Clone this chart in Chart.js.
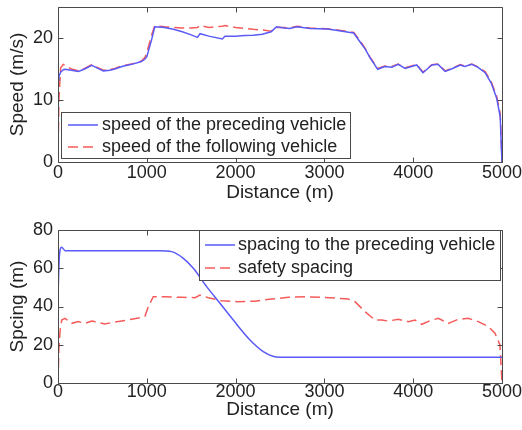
<!DOCTYPE html>
<html>
<head>
<meta charset="utf-8">
<script src="https://cdn.jsdelivr.net/npm/chart.js@4.4.1/dist/chart.umd.min.js"></script>
<style>
  html, body { margin: 0; padding: 0; background: #fff; }
  .panel { position: absolute; left: 0; width: 522px; height: 215px; }
  #speedPanel { top: 0; }
  #spacingPanel { top: 215px; }
</style>
</head>
<body>
<div class="panel" id="speedPanel"><canvas id="speedChart" width="522" height="215"></canvas></div>
<div class="panel" id="spacingPanel"><canvas id="spacingChart" width="522" height="215"></canvas></div>
<script>
// Speed profile (distance in m, speed in m/s)
const speedDist = [0, 10, 30, 60, 80, 150, 230, 300, 380, 450, 510, 585, 640, 720, 830, 940, 980, 1000,
  1050, 1090, 1200, 1300, 1400, 1500, 1570, 1600, 1700, 1850, 1880, 2000, 2100, 2200, 2300, 2400, 2460,
  2550, 2610, 2690, 2840, 3030, 3150, 3290, 3330, 3400, 3460, 3510, 3600, 3680, 3760, 3830, 3910, 3980,
  4040, 4110, 4210, 4280, 4360, 4430, 4530, 4580, 4660, 4730, 4810, 4880, 4940, 4980, 4995, 5000];
const precedingSpeed = [13.2, 13.8, 14.5, 14.9, 14.95, 14.8, 14.6, 15.0, 15.6, 15.1, 14.7, 14.8, 15.0, 15.4, 15.75, 16.2, 16.6, 17.0,
  19.5, 21.8, 21.7, 21.4, 21.0, 20.5, 20.1, 20.7, 20.3, 19.85, 20.3, 20.3, 20.4, 20.45, 20.6, 21.0, 21.8,
  21.6, 21.55, 21.8, 21.55, 21.45, 21.2, 20.9, 20.8, 19.4, 18.2, 16.9, 14.95, 15.4, 15.3, 15.75, 15.1, 15.4,
  15.65, 14.4, 15.65, 15.75, 14.6, 15.0, 15.65, 15.4, 15.75, 15.25, 14.4, 12.7, 10.3, 7.3, 1.5, 0];
const followingSpeed = [0, 10, 15.2, 15.75, 15.6, 15.0, 14.7, 15.1, 15.7, 15.2, 14.8, 14.9, 15.1, 15.5, 15.8, 16.3, 16.9, 17.6,
  20.3, 22.0, 21.8, 21.7, 21.6, 21.6, 21.7, 22.0, 21.7, 21.9, 22.0, 21.7, 21.55, 21.4, 21.3, 21.1, 21.7,
  21.7, 21.6, 21.9, 21.6, 21.5, 21.3, 21.0, 20.9, 19.6, 18.3, 17.0, 15.1, 15.5, 15.4, 15.8, 15.2, 15.5,
  15.75, 14.5, 15.7, 15.8, 14.7, 15.1, 15.7, 15.5, 15.8, 15.35, 14.6, 12.9, 10.6, 7.8, 2.0, 0];

// Spacing profile (distance in m, spacing in m)
const gapDist = [0, 15, 40, 80, 1150, 1280, 1411, 1524, 1674, 1824, 1974, 2162, 2312, 2420, 2500, 5000];
const gapSpacing = [45, 66, 71, 69.2, 69.2, 68.7, 65.2, 60, 50.4, 41.7, 32.9, 22.5, 16.4, 14.0, 13.5, 13.5];
const safetyDist = [0, 10, 25, 42, 79, 154, 229, 304, 380, 454, 529, 604, 717, 830, 942, 980, 1017, 1073,
  1205, 1393, 1543, 1599, 1693, 1843, 2030, 2218, 2406, 2594, 2782, 2970, 3157, 3270, 3345, 3457, 3570,
  3645, 3720, 3832, 3945, 4020, 4096, 4208, 4283, 4395, 4508, 4620, 4733, 4845, 4921, 4977, 5000];
const safetySpacing = [0, 18, 28, 32.9, 33.8, 31.2, 32.1, 31.2, 32.4, 31.7, 30.8, 31.6, 32.4, 33.3, 34.3, 35, 39.9, 45.1,
  45.1, 44.8, 44.6, 46, 44.6, 43, 42.5, 42.8, 43.9, 44.8, 45.1, 44.8, 44.3, 43.9, 42.5, 37.3, 32.9,
  32.9, 32.4, 33.3, 32.1, 32.9, 30.7, 32.9, 33.8, 31.2, 33.3, 33.8, 32.1, 29.5, 26, 19.9, 0];

// Tick labels
const distTicks = [0, 1000, 2000, 3000, 4000, 5000];
const speedTicks = [0, 10, 20];
const spacingTicks = [0, 20, 40, 60, 80];

const FONT = '"Liberation Sans", Arial, Helvetica, sans-serif';
const BLUE = '#5a5af7';
const RED = '#f65b5b';
Chart.defaults.font.family = FONT;
Chart.defaults.color = '#222';

const pairs = (xs, ys) => xs.map((x, i) => ({ x: x, y: ys[i] }));

// axes box with inward tick marks on all four sides
const framePlugin = {
  id: 'frame',
  afterDatasetsDraw(chart) {
    const { ctx, chartArea: a, scales: { x, y } } = chart;
    const l = Math.round(a.left) + 0.5, r = Math.round(a.right) + 0.5;
    const t = Math.round(a.top) + 0.5, b = Math.round(a.bottom) + 0.5;
    ctx.save();
    ctx.strokeStyle = '#4a4a4a';
    ctx.lineWidth = 1;
    ctx.beginPath();
    ctx.rect(l, t, r - l, b - t);
    x.ticks.forEach(tk => {
      const px = Math.round(x.getPixelForValue(tk.value)) + 0.5;
      ctx.moveTo(px, t); ctx.lineTo(px, t + 5);
      ctx.moveTo(px, b); ctx.lineTo(px, b - 5);
    });
    y.ticks.forEach(tk => {
      const py = Math.round(y.getPixelForValue(tk.value)) + 0.5;
      ctx.moveTo(l, py); ctx.lineTo(l + 5, py);
      ctx.moveTo(r, py); ctx.lineTo(r - 5, py);
    });
    ctx.stroke();
    ctx.restore();
  }
};

// boxed legend placed inside the axes
const boxLegendPlugin = {
  id: 'boxLegend',
  afterDraw(chart, args, opts) {
    const { ctx } = chart;
    ctx.save();
    ctx.fillStyle = '#fff';
    ctx.fillRect(opts.x, opts.y, opts.w, opts.h);
    ctx.strokeStyle = '#4a4a4a';
    ctx.lineWidth = 1;
    ctx.strokeRect(opts.x + 0.5, opts.y + 0.5, opts.w, opts.h);
    chart.data.datasets.forEach((ds, i) => {
      const ly = opts.rows[i];
      ctx.beginPath();
      ctx.strokeStyle = ds.borderColor;
      ctx.lineWidth = ds.borderWidth;
      ctx.setLineDash(ds.borderDash || []);
      ctx.moveTo(opts.lineFrom, ly);
      ctx.lineTo(opts.lineTo, ly);
      ctx.stroke();
      ctx.setLineDash([]);
      ctx.fillStyle = '#222';
      ctx.font = '18px ' + FONT;
      ctx.textBaseline = 'middle';
      ctx.fillText(ds.label, opts.textX, ly);
    });
    ctx.restore();
  }
};

function makeOptions(cfg) {
  return {
    responsive: false,
    animation: false,
    layout: { padding: { left: 0, right: 20, top: cfg.top, bottom: 0 } },
    elements: { point: { radius: 0 }, line: { tension: 0 } },
    plugins: {
      legend: { display: false },
      tooltip: { enabled: false },
      boxLegend: cfg.legend
    },
    scales: {
      x: {
        type: 'linear',
        min: 0,
        max: 5000,
        grid: { display: false, drawTicks: false },
        border: { display: false },
        afterBuildTicks: s => { s.ticks = distTicks.map(v => ({ value: v })); },
        afterFit: s => { s.height = cfg.xHeight; s.paddingLeft = 0; s.paddingRight = 0; },
        ticks: { autoSkip: false, maxRotation: 0, padding: cfg.xPad, font: { size: 18, lineHeight: 1 }, color: '#222',
                 callback: v => String(v) },
        title: { display: true, text: 'Distance (m)', font: { size: 19, lineHeight: 1 }, color: '#222',
                 padding: { top: 0, bottom: cfg.titlePad } }
      },
      y: {
        type: 'linear',
        min: 0,
        max: cfg.yMax,
        grid: { display: false, drawTicks: false },
        border: { display: false },
        afterBuildTicks: s => { s.ticks = cfg.yTicks.map(v => ({ value: v })); },
        afterFit: s => { s.width = 58; s.paddingTop = 0; s.paddingBottom = 0; },
        ticks: { padding: 5, font: { size: 18 }, color: '#222', callback: v => String(v) },
        title: { display: true, text: cfg.yTitle, font: { size: 19, lineHeight: 1 }, color: '#222',
                 padding: { top: 8.5, bottom: 0 } }
      }
    }
  };
}

new Chart(document.getElementById('speedChart'), {
  type: 'line',
  data: {
    datasets: [
      { label: 'speed of the preceding vehicle', data: pairs(speedDist, precedingSpeed),
        borderColor: BLUE, borderWidth: 1.5 },
      { label: 'speed of the following vehicle', data: pairs(speedDist, followingSpeed),
        borderColor: RED, borderWidth: 1.5, borderDash: [10, 5] }
    ]
  },
  options: makeOptions({
    top: 7, xHeight: 53, xPad: 2, titlePad: 12.5, yMax: 25, yTicks: speedTicks, yTitle: 'Speed (m/s)',
    legend: { x: 61, y: 112, w: 289, h: 46, rows: [125, 147], lineFrom: 68, lineTo: 98, textX: 102 }
  }),
  plugins: [framePlugin, boxLegendPlugin]
});

new Chart(document.getElementById('spacingChart'), {
  type: 'line',
  data: {
    datasets: [
      { label: 'spacing to the preceding vehicle', data: pairs(gapDist, gapSpacing),
        borderColor: BLUE, borderWidth: 1.5, cubicInterpolationMode: 'monotone' },
      { label: 'safety spacing', data: pairs(safetyDist, safetySpacing),
        borderColor: RED, borderWidth: 1.5, borderDash: [10, 5] }
    ]
  },
  options: makeOptions({
    top: 15, xHeight: 47, xPad: 0, titlePad: 10.5, yMax: 80, yTicks: spacingTicks, yTitle: 'Spcing (m)',
    legend: { x: 199, y: 15, w: 301, h: 50, rows: [30, 53], lineFrom: 205, lineTo: 235, textX: 238 }
  }),
  plugins: [framePlugin, boxLegendPlugin]
});
</script>
</body>
</html>
